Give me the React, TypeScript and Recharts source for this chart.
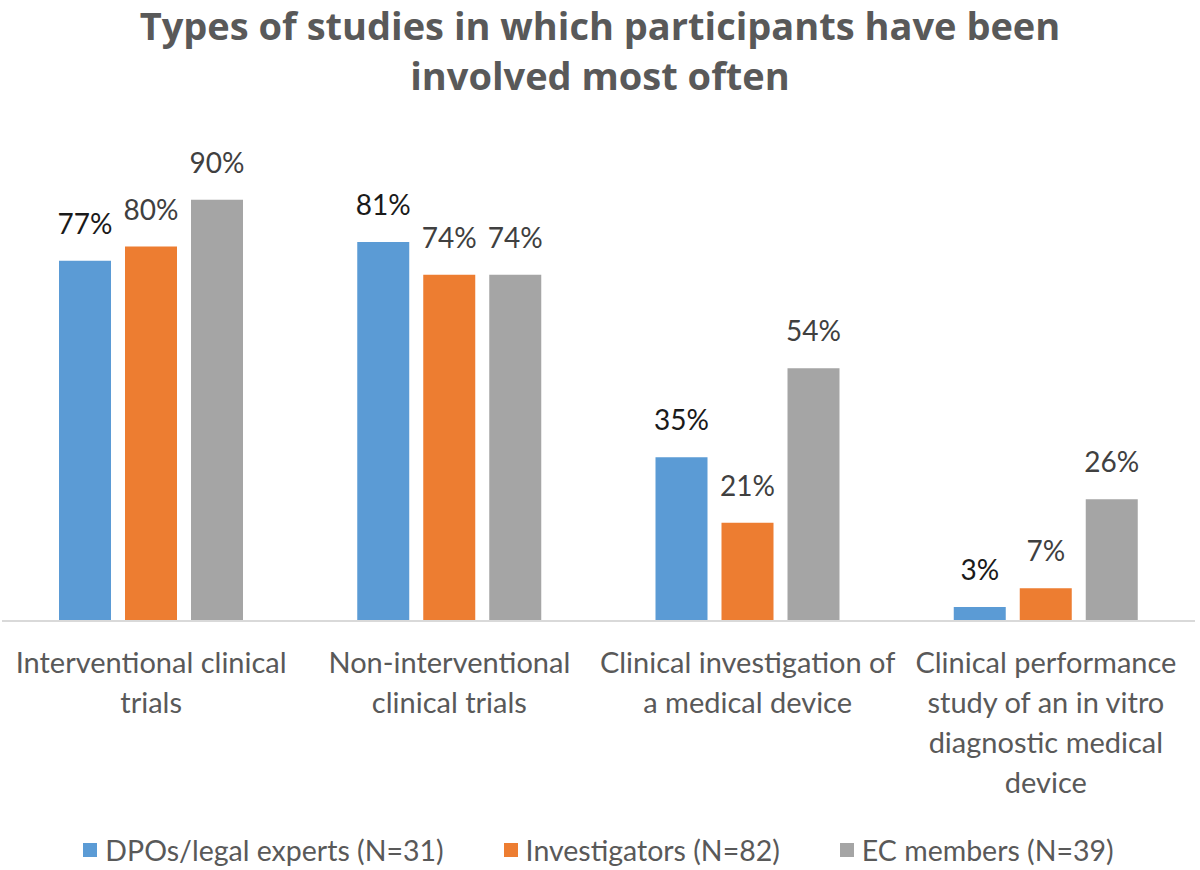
import React from 'react'
import { BarChart, Bar, XAxis, YAxis, LabelList, Legend } from 'recharts'

const categories = [
    'Interventional clinical\ntrials',
    'Non-interventional\nclinical trials',
    'Clinical investigation of\na medical device',
    'Clinical performance\nstudy of an in vitro\ndiagnostic medical\ndevice',
]
const dpoValues = [77, 81, 35, 3]
const investigatorValues = [80, 74, 21, 7]
const ecValues = [90, 74, 54, 26]

const seriesNames = ['DPOs/legal experts (N=31)', 'Investigators (N=82)', 'EC members (N=39)']
const seriesColors = ['#5B9BD5', '#ED7D31', '#A5A5A5']
const seriesKeys = ['dpo', 'inv', 'ec']

const data = categories.map((name, i) => ({
    name,
    dpo: dpoValues[i],
    inv: investigatorValues[i],
    ec: ecValues[i],
}))

const FONT = 'Lato, "Open Sans", sans-serif'

const CategoryTick = (props: any) => {
    const { x, y, payload } = props
    const lines = String(payload.value).split('\n')
    return (
        <text x={x} y={y} textAnchor="middle" fill="#595959" fontSize={29} fontFamily={FONT}>
            {lines.map((line, i) => (
                <tspan key={i} x={x} dy={i === 0 ? 44 : 40}>{line}</tspan>
            ))}
        </text>
    )
}

const LegendContent = () => (
    <div style={{ display: 'flex', justifyContent: 'center', gap: 60, height: 50, paddingTop: 10, boxSizing: 'border-box', alignItems: 'center', fontFamily: FONT, fontSize: 28.5, color: '#595959' }}>
        {seriesNames.map((n, i) => (
            <div key={n} style={{ display: 'flex', alignItems: 'center' }}>
                <span style={{ width: 14, height: 14, background: seriesColors[i], marginRight: 8, display: 'inline-block' }} />
                {n}
            </div>
        ))}
    </div>
)

const pct = (v: any) => `${v}%`

const titleStyle: React.CSSProperties = {
    display: 'inline-block',
    fontFamily: '"Open Sans", sans-serif',
    fontWeight: 700,
    fontSize: 38,
    color: '#595959',
    whiteSpace: 'nowrap',
}

export default function App() {
    return (
        <div style={{ position: 'absolute', left: 0, top: 0, width: 1200, height: 870, background: '#fff' }}>
            <div style={{ position: 'absolute', top: 4, left: 0, width: 1200, display: 'flex', flexDirection: 'column', alignItems: 'center', zIndex: 1 }}>
                <span style={{ ...titleStyle, lineHeight: '42px' }}>Types of studies in which participants have been</span>
                <span style={{ ...titleStyle, lineHeight: '58px' }}>involved most often</span>
            </div>
            <BarChart
                width={1200}
                height={870}
                data={data}
                margin={{ top: 153, right: 5, left: 2, bottom: 0 }}
                barCategoryGap={57}
                barGap={14}
            >
                <YAxis hide domain={[0, 100]} />
                <XAxis
                    dataKey="name"
                    interval={0}
                    tickLine={false}
                    axisLine={{ stroke: '#D9D9D9', strokeWidth: 2 }}
                    height={199}
                    tick={<CategoryTick />}
                />
                <Legend verticalAlign="bottom" content={<LegendContent />} />
                {seriesKeys.map((k, i) => (
                    <Bar key={k} dataKey={k} name={seriesNames[i]} fill={seriesColors[i]} isAnimationActive={false}>
                        <LabelList
                            dataKey={k}
                            position="top"
                            offset={27}
                            formatter={pct}
                            fill={i === 0 ? '#1a1a1a' : '#404040'}
                            fontSize={28}
                            fontFamily={FONT}
                        />
                    </Bar>
                ))}
            </BarChart>
        </div>
    )
}
